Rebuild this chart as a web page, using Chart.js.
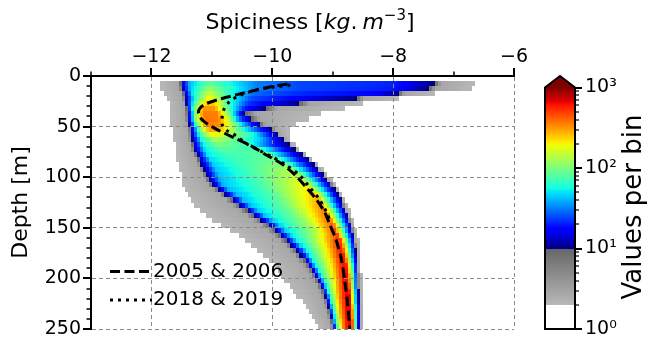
<!DOCTYPE html>
<html><head><meta charset="utf-8">
<script src="https://cdn.jsdelivr.net/npm/chart.js@4.4.1/dist/chart.umd.min.js"></script>
<style>html,body{margin:0;padding:0;background:#fff;overflow:hidden}</style>
</head><body>
<canvas id="c" width="648" height="341"></canvas>
<script>
// ---------------- data ----------------
const xMajorTicks = [-12, -10, -8, -6];
const xMinorTicks = [-13, -11, -9, -7];
const yMajorTicks = [0, 50, 100, 150, 200, 250];
const yMinorTicks = [10,20,30,40,60,70,80,90,110,120,130,140,160,170,180,190,210,220,230,240];
const cbMajorTicks = [1, 10, 100, 1000];
const cbMinorTicks = [2,3,4,5,6,7,8,9,20,30,40,50,60,70,80,90,200,300,400,500,600,700,800,900];
const cbLabels = {1:'10\u2070', 10:'10\u00b9', 100:'10\u00b2', 1000:'10\u00b3'};

// mean profiles
const dashedSpice = [-9.75,-9.95,-10.35,-10.85,-11.1,-11.2,-11.22,-11.15,-11.0,-10.88,-10.6,-10.35,-10.1,-9.84,-9.62,-9.44,-9.27,-9.13,-9.04,-8.95,-8.86,-8.8,-8.75,-8.72];
const dashedDepth = [8,9.8,15,22.5,27.5,32,37,44,50,54,62,69,78,87,98,110,122,135,148,161,180,203,227,250];
const dottedSpice = [-9.7,-9.95,-10.22,-10.55,-10.72,-10.8,-10.83,-10.83,-10.76,-10.6,-10.44,-10.2,-10.0,-9.77,-9.55,-9.38,-9.22,-9.1,-9.03];
const dottedDepth = [9,10.8,13,19.5,26,33,41,48,53.5,59,66.5,74,80,88,98,110,122,135,145];

// 2-D histogram, one row per 5 m depth bin: edges of the grey (2-10 counts)
// and coloured (>=10 counts) parts, and the inner profile (spiciness, log10 count)
const rowTop = [5,10,15,20,25,30,35,40,45,50,55,60,65,70,75,80,85,90,95,100,105,110,115,120,125,130,135,140,145,150,155,160,165,170,175,180,185,190,195,200,205,210,215,220,225,230,235,240,245];
const greyLeft = [-11.85,-11.85,-11.8,-11.75,-11.7,-11.7,-11.7,-11.7,-11.7,-11.65,-11.65,-11.65,
  -11.6,-11.6,-11.6,-11.58,-11.56,-11.55,-11.5,-11.5,-11.48,-11.45,
  -11.4,-11.35,-11.3,-11.2,-11.1,-11.0,-10.85,-10.7,-10.55,-10.45,
  -10.35,-10.25,-10.15,-10.05,-9.95,-9.9,-9.85,-9.8,-9.72,-9.65,
  -9.58,-9.5,-9.45,-9.4,-9.35,-9.3,-9.25];
const colorLeft = [-11.52,-11.5,-11.47,-11.45,-11.44,-11.42,-11.41,-11.4,-11.38,-11.36,-11.35,-11.34,
  -11.32,-11.3,-11.26,-11.22,-11.18,-11.14,-11.1,-11.06,-11.0,-10.9,
  -10.78,-10.66,-10.54,-10.42,-10.3,-10.18,-10.06,-9.96,-9.86,-9.77,
  -9.68,-9.6,-9.53,-9.47,-9.41,-9.35,-9.3,-9.25,-9.2,-9.16,
  -9.13,-9.1,-9.08,-9.06,-9.04,-9.02,-9.0];
const colorRight = [-7.3,-7.4,-7.9,-8.6,-9.55,-10.1,-10.45,-10.35,-10.2,-10.0,-9.9,-9.8,
  -9.72,-9.62,-9.5,-9.41,-9.32,-9.24,-9.17,-9.1,-9.03,-8.97,
  -8.92,-8.87,-8.83,-8.79,-8.76,-8.73,-8.7,-8.68,-8.66,-8.64,
  -8.63,-8.62,-8.61,-8.6,-8.59,-8.59,-8.58,-8.58,-8.58,-8.57,
  -8.57,-8.57,-8.56,-8.56,-8.56,-8.56,-8.56];
const greyRight = [-6.65,-6.7,-7.3,-7.9,-8.5,-8.8,-9.2,-9.4,-9.6,-9.7,-9.72,-9.68,
  -9.62,-9.54,-9.43,-9.34,-9.25,-9.17,-9.09,-9.02,-8.95,-8.9,
  -8.85,-8.8,-8.76,-8.72,-8.69,-8.66,-8.63,-8.61,-8.59,-8.57,
  -8.56,-8.55,-8.54,-8.53,-8.53,-8.53,-8.52,-8.52,-8.52,-8.51,
  -8.51,-8.51,-8.5,-8.5,-8.5,-8.5,-8.5];
const ridgeSpice = [
  [-11.38,-11.05,-10.7,-10.25,-9.5,-8.0],
  [-11.36,-11.05,-10.7,-10.25,-9.5,-8.0],
  [-11.33,-11.05,-10.7,-10.3,-9.5,-8.3],
  [-11.3,-11.05,-10.7,-10.35,-9.5],
  [-11.3,-11.1,-10.95,-10.75,-10.4],
  [-11.3,-11.15,-10.95,-10.8,-10.45],
  [-11.28,-11.15,-10.92,-10.75],
  [-11.28,-11.12,-10.9,-10.75,-10.55],
  [-11.25,-11.1,-10.88,-10.7,-10.45],
  [-11.22,-11.05,-10.85,-10.65,-10.4],
  [-11.2,-11.0,-10.8,-10.3],
  [-11.18,-10.95,-10.55,-10.2],
  [-11.15,-10.9,-10.4],
  [-11.12,-10.85,-10.2],
  [-11.08,-10.8,-10.05],
  [-11.03,-10.7,-9.92],
  [-10.98,-10.6,-9.8],
  [-10.94,-10.5,-9.7],
  [-10.9,-10.4,-9.6],
  [-10.86,-10.3,-9.52],
  [-10.82,-10.2,-9.45],
  [-10.72,-10.1,-9.37],
  [-10.6,-10.0,-9.3],
  [-10.48,-9.9,-9.24],
  [-10.36,-9.8,-9.19],
  [-10.24,-9.7,-9.14],
  [-10.12,-9.6,-9.09],
  [-10.0,-9.5,-9.05],
  [-9.88,-9.4,-9.0],
  [-9.78,-9.3,-8.97],
  [-9.68,-9.25,-8.93],
  [-9.6,-9.2,-8.92,-8.88],
  [-9.52,-9.15,-8.92,-8.86],
  [-9.45,-9.1,-8.9,-8.84],
  [-9.39,-9.07,-8.88,-8.82],
  [-9.34,-9.03,-8.86,-8.8],
  [-9.29,-9.0,-8.85,-8.78],
  [-9.24,-8.98,-8.84,-8.77],
  [-9.2,-8.96,-8.83,-8.76],
  [-9.15,-8.94,-8.82,-8.75],
  [-9.11,-8.93,-8.81,-8.74],
  [-9.08,-8.92,-8.8,-8.73],
  [-9.05,-8.91,-8.8,-8.72],
  [-9.03,-8.9,-8.79,-8.72],
  [-9.01,-8.89,-8.78,-8.71],
  [-8.99,-8.88,-8.77,-8.7],
  [-8.97,-8.87,-8.77,-8.7],
  [-8.96,-8.86,-8.76,-8.69],
  [-8.94,-8.85,-8.76,-8.69]
];
const ridgeLog = [
  [1.6,1.95,1.75,1.5,1.38,1.32],
  [1.65,2.05,1.8,1.5,1.38,1.3],
  [1.7,2.2,1.8,1.45,1.32,1.25],
  [1.75,2.32,1.8,1.4,1.2],
  [1.85,2.4,2.38,1.9,1.35],
  [1.95,2.5,2.5,2.05,1.3],
  [2.0,2.56,2.55,2.1],
  [2.0,2.58,2.55,2.25,1.5],
  [1.95,2.56,2.52,2.18,1.55],
  [1.9,2.48,2.42,2.08,1.65],
  [1.85,2.3,2.2,1.75],
  [1.75,2.12,1.9,1.65],
  [1.72,2.0,1.85],
  [1.7,1.9,1.88],
  [1.7,1.85,1.92],
  [1.68,1.82,1.98],
  [1.66,1.82,2.05],
  [1.64,1.82,2.12],
  [1.63,1.84,2.18],
  [1.62,1.85,2.24],
  [1.62,1.87,2.3],
  [1.62,1.88,2.36],
  [1.62,1.9,2.42],
  [1.63,1.92,2.47],
  [1.64,1.94,2.52],
  [1.65,1.97,2.56],
  [1.65,2.0,2.6],
  [1.65,2.03,2.63],
  [1.66,2.08,2.66],
  [1.66,2.12,2.68],
  [1.68,2.18,2.7],
  [1.7,2.24,2.72,2.72],
  [1.7,2.26,2.74,2.74],
  [1.72,2.3,2.75,2.75],
  [1.72,2.34,2.76,2.76],
  [1.73,2.36,2.77,2.77],
  [1.74,2.38,2.78,2.78],
  [1.75,2.4,2.78,2.78],
  [1.76,2.42,2.8,2.8],
  [1.77,2.43,2.8,2.8],
  [1.78,2.44,2.8,2.8],
  [1.78,2.45,2.8,2.8],
  [1.78,2.45,2.82,2.82],
  [1.78,2.45,2.82,2.82],
  [1.78,2.45,2.82,2.82],
  [1.78,2.45,2.82,2.82],
  [1.78,2.45,2.82,2.82],
  [1.78,2.45,2.82,2.82],
  [1.78,2.45,2.82,2.82]
];
const rowHeight = 5;     // m per histogram row
const spiceBin = 0.05;   // spiciness per histogram column

// ---------------- colour map ----------------
function lin(t, xs, ys) {
  for (let i = 1; i < xs.length; i++) {
    if (t <= xs[i]) { const f = (t - xs[i-1]) / (xs[i] - xs[i-1]); return ys[i-1] + f * (ys[i] - ys[i-1]); }
  }
  return ys[ys.length-1];
}
function jet(t) {
  const r = lin(t, [0,0.35,0.66,0.89,1], [0,0,1,1,0.5]);
  const g = lin(t, [0,0.125,0.375,0.64,0.91,1], [0,0,1,1,0,0]);
  const b = lin(t, [0,0.11,0.34,0.65,1], [0.5,1,1,0,0]);
  return `rgb(${Math.round(r*255)},${Math.round(g*255)},${Math.round(b*255)})`;
}
function colourFor(logc) {
  if (logc < 0.3) return null;
  if (logc < 1) { const t = (logc - 0.3) / 0.7; const gv = Math.round(184 - 82 * t); return `rgb(${gv},${gv},${gv})`; }
  return jet(Math.min((logc - 1) / 2, 1));
}
function rowProfile(i) {
  const gL = greyLeft[i], cL = colorLeft[i], cR = colorRight[i], gR = greyRight[i];
  return {
    s: [gL, cL - 0.15 * (cL - gL), cL, ...ridgeSpice[i], cR, cR + 0.15 * (gR - cR), gR],
    v: [0.3, 0.45, 1, ...ridgeLog[i], 1, 0.45, 0.3]
  };
}
function valueAt(p, s) {
  if (s < p.s[0] || s > p.s[p.s.length-1]) return -1;
  return lin(s, p.s, p.v);
}

// ---------------- plugins ----------------
const heatmap = {
  id: 'heatmap',
  beforeDraw(chart) {
    const {ctx, chartArea: ca, scales: {x, y}} = chart;
    ctx.save();
    ctx.fillStyle = '#fff'; ctx.fillRect(0, 0, chart.width, chart.height);
    ctx.beginPath(); ctx.rect(ca.left, ca.top, ca.right - ca.left, ca.bottom - ca.top); ctx.clip();
    const nBins = Math.round((x.max - x.min) / spiceBin);
    for (let i = 0; i < rowTop.length; i++) {
      const p = rowProfile(i);
      const y0 = Math.round(y.getPixelForValue(rowTop[i]));
      const y1 = Math.round(y.getPixelForValue(rowTop[i] + rowHeight));
      for (let k = 0; k < nBins; k++) {
        const s0 = x.min + k * spiceBin;
        const col = colourFor(valueAt(p, s0 + spiceBin / 2));
        if (!col) continue;
        const x0 = Math.round(x.getPixelForValue(s0));
        const x1 = Math.round(x.getPixelForValue(s0 + spiceBin));
        ctx.fillStyle = col;
        ctx.fillRect(x0, y0, x1 - x0, y1 - y0);
      }
    }
    ctx.restore();
  }
};

const FONT = '"DejaVu Sans", "Liberation Sans", sans-serif';

const decorations = {
  id: 'decorations',
  afterDraw(chart) {
    const {ctx, chartArea: ca, scales: {x, y, cb}} = chart;
    ctx.save();
    ctx.strokeStyle = '#000';
    ctx.setLineDash([]);
    const tick = (x1, y1, x2, y2, w) => { ctx.lineWidth = w; ctx.beginPath(); ctx.moveTo(x1, y1); ctx.lineTo(x2, y2); ctx.stroke(); };
    xMajorTicks.forEach(v => { const px = Math.round(x.getPixelForValue(v)); tick(px, ca.top, px, ca.top - 8, 2); });
    xMinorTicks.forEach(v => { const px = Math.round(x.getPixelForValue(v)); tick(px, ca.top, px, ca.top - 4.5, 1.5); });
    yMajorTicks.forEach(v => { const py = Math.round(y.getPixelForValue(v)); tick(ca.left, py, ca.left - 8, py, 2); });
    yMinorTicks.forEach(v => { const py = Math.round(y.getPixelForValue(v)); tick(ca.left, py, ca.left - 4.5, py, 1.5); });

    // x axis title with math parts
    const parts = [
      {t: 'Spiciness [', f: '22px ' + FONT, dy: 0},
      {t: 'kg', f: 'italic 22px ' + FONT, dy: 0},
      {t: '.', f: '22px ' + FONT, dy: 0, gap: 5},
      {t: 'm', f: 'italic 22px ' + FONT, dy: 0},
      {t: '\u22123', f: '15px ' + FONT, dy: -9},
      {t: ']', f: '22px ' + FONT, dy: 0}
    ];
    let total = 0;
    parts.forEach(p => { ctx.font = p.f; p.w = ctx.measureText(p.t).width + (p.gap || 0); total += p.w; });
    let cx = 310 - total / 2;
    ctx.fillStyle = '#000'; ctx.textBaseline = 'alphabetic'; ctx.textAlign = 'left';
    parts.forEach(p => { ctx.font = p.f; ctx.fillText(p.t, cx, 29 + p.dy); cx += p.w; });

    // legend
    const ds = chart.data.datasets;
    const legendRows = [ca.top + 195.5, ca.top + 224];
    ds.forEach((d, i) => {
      const ly = legendRows[i];
      ctx.lineWidth = d.borderWidth;
      ctx.setLineDash(d.borderDash);
      ctx.lineCap = 'butt';
      ctx.beginPath(); ctx.moveTo(ca.left + 19, ly); ctx.lineTo(ca.left + 61, ly); ctx.stroke();
      ctx.setLineDash([]);
      ctx.fillStyle = '#000';
      ctx.font = '20px ' + FONT; ctx.textBaseline = 'middle';
      ctx.fillText(d.label, ca.left + 62, ly);
    });

    // colour bar
    const xr = cb.left, xl = cb.left - 30;
    const yTop = cb.getPixelForValue(1000), yBot = cb.getPixelForValue(1);
    for (let p = Math.floor(yTop); p < Math.ceil(yBot); p++) {
      const lv = Math.log10(cb.getValueForPixel(p + 0.5));
      ctx.fillStyle = colourFor(Math.min(lv, 3)) || '#fff';
      ctx.fillRect(xl, p, 30, 1);
    }
    ctx.fillStyle = jet(1);
    ctx.beginPath(); ctx.moveTo(xl, yTop); ctx.lineTo((xl + xr) / 2, ca.top); ctx.lineTo(xr, yTop); ctx.closePath(); ctx.fill();
    ctx.lineWidth = 2; ctx.lineJoin = 'miter';
    ctx.beginPath(); ctx.moveTo(xl, yBot); ctx.lineTo(xl, yTop); ctx.lineTo((xl + xr) / 2, ca.top); ctx.lineTo(xr, yTop); ctx.lineTo(xr, yBot); ctx.closePath(); ctx.stroke();
    cbMajorTicks.forEach(v => { const py = Math.round(cb.getPixelForValue(v)); tick(xr, py, xr + 7, py, 2); });
    cbMinorTicks.forEach(v => { const py = Math.round(cb.getPixelForValue(v)); tick(xr, py, xr + 4, py, 1.2); });

    // colour bar label
    ctx.save();
    ctx.fillStyle = '#000';
    ctx.translate(641, 207); ctx.rotate(-Math.PI / 2);
    ctx.font = '26px ' + FONT; ctx.textAlign = 'center'; ctx.textBaseline = 'alphabetic';
    ctx.fillText('Values per bin', 0, 0);
    ctx.restore();
    ctx.restore();
  }
};

// ---------------- chart ----------------
Chart.defaults.font.family = FONT;
Chart.defaults.color = '#000';

const pts = (xs, ys) => xs.map((v, i) => ({x: v, y: ys[i]}));

new Chart(document.getElementById('c'), {
  type: 'scatter',
  data: {
    datasets: [
      {label: '2005 & 2006', data: pts(dashedSpice, dashedDepth), showLine: true, borderColor: '#000', backgroundColor: '#000',
       borderWidth: 3, borderDash: [10, 4.5], pointRadius: 0, tension: 0.3, xAxisID: 'x', yAxisID: 'y'},
      {label: '2018 & 2019', data: pts(dottedSpice, dottedDepth), showLine: true, borderColor: '#000', backgroundColor: '#000',
       borderWidth: 3, borderDash: [3, 5], pointRadius: 0, tension: 0.3, xAxisID: 'x', yAxisID: 'y'}
    ]
  },
  options: {
    responsive: false, animation: false, devicePixelRatio: 1,
    layout: {padding: {top: 0, left: 0, right: 0, bottom: 12}},
    plugins: {legend: {display: false}, tooltip: {enabled: false}},
    scales: {
      x: {
        type: 'linear', position: 'top', min: -13, max: -6,
        afterBuildTicks: s => { s.ticks = xMajorTicks.map(v => ({value: v})); },
        afterFit: s => { s.height = 76; s.paddingLeft = 0; s.paddingRight = 0; },
        ticks: {font: {size: 19}, padding: 8, maxRotation: 0, callback: v => String(v).replace('-', '\u2212')},
        grid: {color: '#8a8a8a', lineWidth: 1, drawTicks: false},
        border: {display: true, color: '#000', width: 2, dash: [4, 3]}
      },
      y: {
        type: 'linear', position: 'left', reverse: true, min: 0, max: 250,
        afterBuildTicks: s => { s.ticks = yMajorTicks.map(v => ({value: v})); },
        afterFit: s => { s.width = 91; s.paddingTop = 0; s.paddingBottom = 0; },
        ticks: {font: {size: 19}, padding: 10},
        grid: {color: c => (c.tick && c.tick.value === 0) ? 'rgba(0,0,0,0)' : '#8a8a8a', lineWidth: 1, drawTicks: false},
        border: {display: true, color: '#000', width: 2, dash: [4, 3]},
        title: {display: true, text: 'Depth [m]', font: {size: 22}, padding: {top: 8, bottom: 0}}
      },
      spacer: {
        type: 'linear', axis: 'y', position: 'right', weight: 0, min: 0, max: 1,
        afterFit: s => { s.width = 61; s.paddingTop = 0; s.paddingBottom = 0; },
        ticks: {display: false}, grid: {display: false, drawTicks: false}, border: {display: false}
      },
      cb: {
        type: 'logarithmic', axis: 'y', position: 'right', weight: 1, min: 1, max: 1390, bounds: 'data',
        afterBuildTicks: s => { s.ticks = cbMajorTicks.map(v => ({value: v})); },
        afterFit: s => { s.width = 73; s.paddingTop = 0; s.paddingBottom = 0; },
        ticks: {font: {size: 19}, padding: 3, callback: v => cbLabels[v] || ''},
        grid: {display: false, drawTicks: true, tickLength: 7},
        border: {display: false}
      }
    }
  },
  plugins: [heatmap, decorations]
});
</script>
</body></html>
